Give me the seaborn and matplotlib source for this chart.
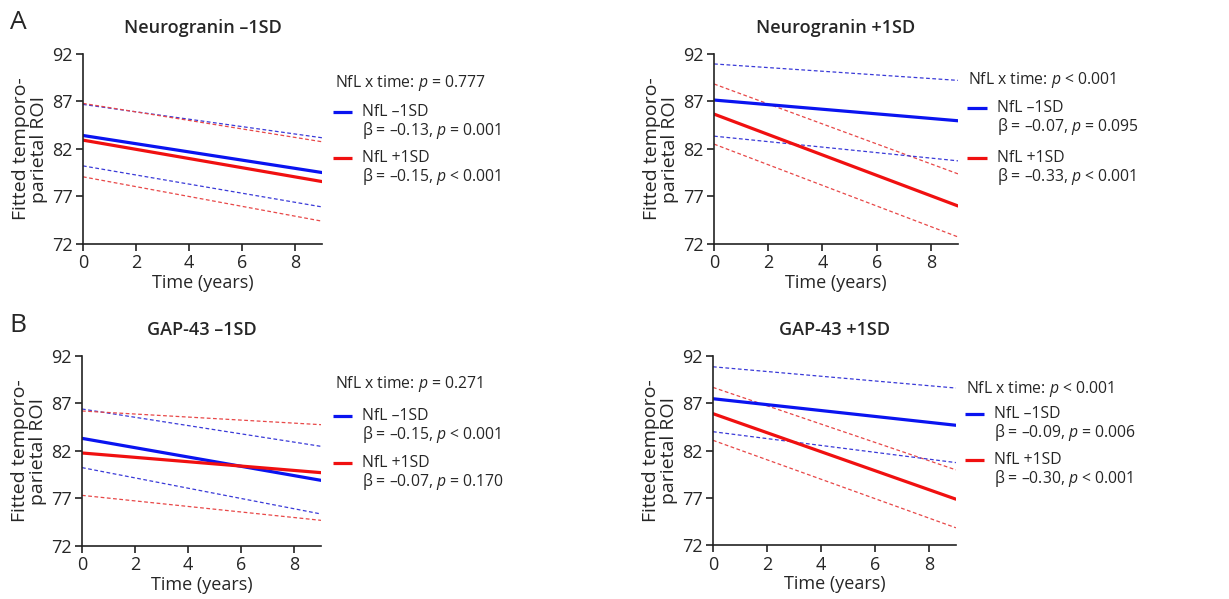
"""Fitted temporo-parietal ROI trajectories by NfL level, split by neurogranin / GAP-43."""

import matplotlib
matplotlib.use("Agg")
import matplotlib.pyplot as plt
import pandas as pd
import seaborn as sns

sns.set_style("ticks")
plt.rcParams["font.family"] = ["Open Sans", "DejaVu Sans"]
plt.rcParams["mathtext.fontset"] = "custom"
plt.rcParams["mathtext.rm"] = "Open Sans"
plt.rcParams["mathtext.it"] = "Open Sans:italic"

BLUE = "#0a14f0"
RED = "#f01010"
BLUE_CI = "#3a3ad8"
RED_CI = "#e84848"

# time points at which the fitted lines are evaluated
TIME = [0, 9]

PANEL_TITLES = ["Neurogranin \u20131SD", "Neurogranin +1SD", "GAP-43 \u20131SD", "GAP-43 +1SD"]
INTERACTION_P = ["$p$ = 0.777", "$p$ < 0.001", "$p$ = 0.271", "$p$ < 0.001"]
GROUPS = ["NfL \u20131SD", "NfL +1SD"]
BETA_LOW = ["\u03b2 = \u20130.13, $p$ = 0.001", "\u03b2 = \u20130.07, $p$ = 0.095",
            "\u03b2 = \u20130.15, $p$ < 0.001", "\u03b2 = \u20130.09, $p$ = 0.006"]
BETA_HIGH = ["\u03b2 = \u20130.15, $p$ < 0.001", "\u03b2 = \u20130.33, $p$ < 0.001",
             "\u03b2 = \u20130.07, $p$ = 0.170", "\u03b2 = \u20130.30, $p$ < 0.001"]

# fitted values (start, end) per panel: NfL -1SD fit / lower / upper, NfL +1SD fit / lower / upper
LOW_FIT = [[83.42, 79.52], [87.15, 84.97], [83.33, 78.91], [87.49, 84.68]]
LOW_LO = [[80.22, 75.90], [83.35, 80.75], [80.25, 75.37], [84.00, 80.73]]
LOW_HI = [[86.69, 83.18], [90.95, 89.22], [86.42, 82.49], [90.87, 88.62]]
HIGH_FIT = [[82.93, 78.57], [85.67, 76.00], [81.79, 79.72], [85.91, 76.86]]
HIGH_LO = [[79.07, 74.40], [82.51, 72.74], [77.33, 74.70], [83.09, 73.83]]
HIGH_HI = [[86.80, 82.76], [88.84, 79.38], [86.21, 84.77], [88.69, 79.96]]

# axes rectangles in figure fraction (left, bottom, width, height)
AX_RECTS = [
    [0.0675, 0.5927, 0.1945, 0.3172],
    [0.5810, 0.5927, 0.1985, 0.3172],
    [0.0667, 0.0885, 0.1945, 0.3172],
    [0.5801, 0.0900, 0.1977, 0.3155],
]
# legend anchor per panel: x of title, x of handle, y of title, y of first entry, y of second entry
LEGEND_POS = [
    (1.054, 1.046, 0.847, 0.695, 0.453),
    (1.041, 1.037, 0.863, 0.716, 0.453),
    (1.059, 1.050, 0.853, 0.684, 0.437),
    (1.041, 1.037, 0.825, 0.693, 0.450),
]

FS = 13
LEG_FS = 11.3


def panel_frame(i):
    rows = []
    for name, vals in [("low_fit", LOW_FIT), ("low_lo", LOW_LO), ("low_hi", LOW_HI),
                       ("high_fit", HIGH_FIT), ("high_lo", HIGH_LO), ("high_hi", HIGH_HI)]:
        for t, v in zip(TIME, vals[i]):
            rows.append({"time": t, "roi": v, "line": name})
    return pd.DataFrame(rows)


fig = plt.figure(figsize=(12.29, 5.99), dpi=100)

styles = {
    "low_fit": dict(color=BLUE, lw=2.3, ls="-"),
    "high_fit": dict(color=RED, lw=2.3, ls="-"),
    "low_lo": dict(color=BLUE_CI, lw=0.9, ls=(0, (3, 2))),
    "low_hi": dict(color=BLUE_CI, lw=0.9, ls=(0, (3, 2))),
    "high_lo": dict(color=RED_CI, lw=0.9, ls=(0, (3, 2))),
    "high_hi": dict(color=RED_CI, lw=0.9, ls=(0, (3, 2))),
}
draw_order = ["low_hi", "high_hi", "low_lo", "high_lo", "low_fit", "high_fit"]

for i, rect in enumerate(AX_RECTS):
    ax = fig.add_axes(rect)
    df = panel_frame(i)
    for name in draw_order:
        st = styles[name]
        sns.lineplot(data=df[df["line"] == name], x="time", y="roi", ax=ax,
                     color=st["color"], linewidth=st["lw"], linestyle=st["ls"],
                     legend=False)

    ax.set_xlim(0, 9)
    ax.set_ylim(72, 92)
    ax.set_xticks([0, 2, 4, 6, 8])
    ax.set_yticks([72, 77, 82, 87, 92])
    ax.tick_params(labelsize=FS, length=5, width=1.2, color="#222222", pad=2.5)
    for side in ["left", "bottom"]:
        ax.spines[side].set_linewidth(1.2)
        ax.spines[side].set_color("#222222")
    sns.despine(ax=ax)
    ax.set_xlabel("Time (years)", fontsize=FS, labelpad=1)
    ax.set_ylabel("Fitted temporo-\nparietal ROI", fontsize=14, labelpad=3, linespacing=0.95)
    ax.set_title(PANEL_TITLES[i], fontsize=FS, fontweight="semibold", pad=15)

    # custom legend block to the right of the axes
    tx, hx, ty, y1, y2 = LEGEND_POS[i]
    ax.text(tx, ty, "NfL x time: " + INTERACTION_P[i], transform=ax.transAxes,
            fontsize=LEG_FS, va="center", ha="left")
    dy = 0.098
    for y, col, grp, beta in [(y1, BLUE, GROUPS[0], BETA_LOW[i]),
                              (y2, RED, GROUPS[1], BETA_HIGH[i])]:
        ax.plot([hx, hx + 0.08], [y, y], color=col, lw=2.3, transform=ax.transAxes,
                clip_on=False, solid_capstyle="butt")
        ax.text(hx + 0.121, y, grp, transform=ax.transAxes, fontsize=LEG_FS,
                va="center", ha="left")
        ax.text(hx + 0.121, y - dy, beta, transform=ax.transAxes, fontsize=LEG_FS,
                va="center", ha="left")

fig.text(0.008, 0.963, "A", fontsize=19, va="center", ha="left")
fig.text(0.008, 0.457, "B", fontsize=19, va="center", ha="left")

fig.savefig("out.png", dpi=100)
